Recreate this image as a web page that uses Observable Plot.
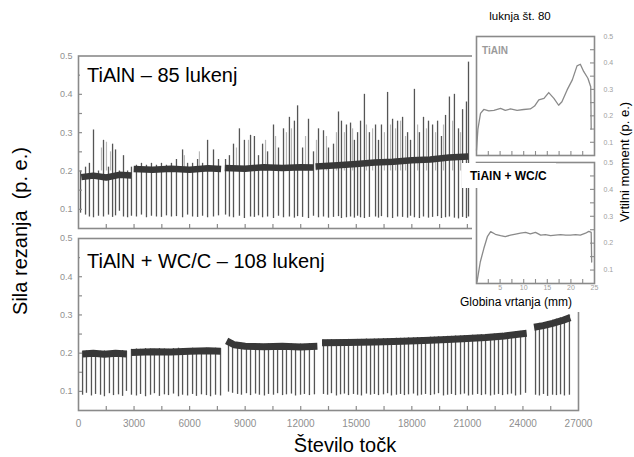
<!DOCTYPE html>
<html><head><meta charset="utf-8">
<script src="https://cdn.jsdelivr.net/npm/d3@7"></script>
<script src="https://cdn.jsdelivr.net/npm/@observablehq/plot@0.6"></script>
<style>
body{margin:0;background:#fff;}
#wrap{position:relative;width:634px;height:457px;overflow:hidden;background:#fff;font-family:"Liberation Sans",Arial,sans-serif;color:#000;}
#wrap svg{position:absolute;}
.lbl{position:absolute;white-space:pre;line-height:1;}
.box{position:absolute;background:#fff;}
</style></head><body><div id="wrap"></div>
<script>
// ---------- Main top panel: TiAlN (85 holes) ----------
const tiHoleX = [110, 380, 590, 810, 1080, 1350, 1620, 1840, 2000, 2210, 2430, 2650, 2860,
  3130, 3400, 3670, 3940, 4210, 4480, 4750, 5020, 5290, 5620, 5890, 6160, 6430, 6700, 6970, 7290, 7560,
  7940, 8150, 8370, 8690, 8960, 9290, 9500, 9720, 9940, 10210,
  10530, 10800, 11070, 11390, 11660, 11830, 12100, 12420, 12690, 12960,
  13230, 13500, 13770, 14040, 14200, 14470, 14690, 14900, 15070, 15230,
  15440, 15710, 16040, 16200, 16360, 16690, 16960, 17230, 17500, 17770,
  17930, 18140, 18410, 18630, 18900, 19120, 19390, 19600, 19820, 20030,
  20300, 20520, 20740, 20950, 21060];
const tiHoleLow = [0.09, 0.085, 0.08, 0.078, 0.082, 0.08, 0.085, 0.079, 0.083, 0.095,
  0.08, 0.078, 0.082, 0.08, 0.085, 0.078, 0.082, 0.08, 0.079, 0.083,
  0.08, 0.081, 0.078, 0.085, 0.08, 0.079, 0.082, 0.078, 0.08, 0.083,
  0.085, 0.08, 0.078, 0.082, 0.076, 0.08, 0.079, 0.083, 0.078, 0.08,
  0.076, 0.082, 0.078, 0.08, 0.077, 0.081, 0.079, 0.076, 0.082, 0.078,
  0.08, 0.077, 0.079, 0.081, 0.076, 0.078, 0.08, 0.077, 0.082, 0.078,
  0.076, 0.079, 0.08, 0.077, 0.081, 0.078, 0.076, 0.08, 0.079, 0.077,
  0.082, 0.078, 0.076, 0.08, 0.077, 0.079, 0.081, 0.076, 0.078, 0.08,
  0.077, 0.075, 0.079, 0.076, 0.08];
const tiHoleHigh = [0.2, 0.21, 0.22, 0.307, 0.2, 0.28, 0.21, 0.27, 0.255, 0.2,
  0.24, 0.2, 0.21, 0.215, 0.22, 0.215, 0.22, 0.215, 0.22, 0.215,
  0.22, 0.23, 0.255, 0.22, 0.22, 0.23, 0.22, 0.28, 0.255, 0.23,
  0.23, 0.24, 0.27, 0.31, 0.28, 0.293, 0.29, 0.24, 0.27, 0.25,
  0.32, 0.26, 0.31, 0.34, 0.33, 0.37, 0.26, 0.335, 0.25, 0.31,
  0.305, 0.26, 0.27, 0.354, 0.33, 0.32, 0.325, 0.28, 0.30, 0.33,
  0.40, 0.30, 0.32, 0.28, 0.32, 0.405, 0.335, 0.33, 0.34, 0.30,
  0.28, 0.413, 0.30, 0.34, 0.33, 0.32, 0.33, 0.29, 0.345, 0.393,
  0.40, 0.31, 0.36, 0.38, 0.484];
// faint (light grey) spikes between the dark ones
const tiGhostX = [1240, 1510, 1730, 5720, 6530, 8530, 9180, 10100, 10640, 11230, 11500, 12260, 12850, 13390, 13930,
  14360, 14800, 15550, 15880, 16520, 16850, 17120, 17390, 17660, 18310, 18790, 19280, 19710, 20200, 20630];
const tiGhostPeak = [0.26, 0.275, 0.25, 0.24, 0.25, 0.26, 0.28, 0.28, 0.29, 0.3, 0.31, 0.29, 0.28, 0.29, 0.3,
  0.3, 0.31, 0.32, 0.31, 0.3, 0.32, 0.31, 0.33, 0.29, 0.32, 0.31, 0.3, 0.32, 0.33, 0.3];
// plateau (cutting force level) of each drilling block
const tiLevelX = [150, 800, 1500, 2200, 2850,
  2980, 4000, 5000, 6000, 7000, 7700,
  7900, 9000, 10000, 11000, 12000, 12700,
  12800, 14000, 15000, 16000, 17000, 18000, 19000, 20000, 21050];
const tiLevelY = [0.184, 0.188, 0.183, 0.19, 0.188,
  0.205, 0.203, 0.206, 0.203, 0.207, 0.205,
  0.208, 0.206, 0.21, 0.208, 0.21, 0.209,
  0.212, 0.215, 0.218, 0.222, 0.224, 0.228, 0.23, 0.235, 0.238];
const tiLevelSeg = [1, 1, 1, 1, 1, 2, 2, 2, 2, 2, 2, 3, 3, 3, 3, 3, 3, 4, 4, 4, 4, 4, 4, 4, 4, 4];

// ---------- Main bottom panel: TiAlN + WC/C (108 holes) ----------
const wcHoleX = [220, 430, 700, 920, 1190, 1400, 1670, 1890, 2160, 2380, 2590,
  2860, 3130, 3350, 3620, 3890, 4100, 4370, 4640, 4860, 5130, 5400, 5620, 5890, 6160, 6370, 6640, 6910, 7130, 7400, 7670,
  8100, 8320, 8590, 8800, 9070, 9290, 9560, 9770, 10040, 10260, 10530, 10750, 11020, 11230, 11500, 11720, 11990, 12200, 12470, 12740,
  13230, 13450, 13660, 13930, 14150, 14360, 14580, 14850, 15070, 15280,
  15550, 15770, 15980, 16200, 16470, 16690, 16900, 17170, 17390, 17600,
  17820, 18090, 18310, 18520, 18740, 19010, 19220, 19440, 19710, 19930,
  20140, 20360, 20630, 20840, 21060, 21280, 21550, 21760, 21980, 22250,
  22460, 22680, 22900, 23170, 23380, 23600, 23870, 24140,
  24680, 24890, 25110, 25330, 25600, 25810, 26030, 26240, 26510];
const wcHoleLow = [0.09, 0.095, 0.088, 0.092, 0.09, 0.086, 0.094, 0.089, 0.091, 0.087, 0.1,
  0.09, 0.088, 0.092, 0.086, 0.09, 0.094, 0.087, 0.091, 0.089, 0.093, 0.086, 0.09, 0.088, 0.092, 0.087, 0.091, 0.089, 0.086, 0.09, 0.088,
  0.098, 0.095, 0.092, 0.09, 0.094, 0.089, 0.093, 0.09, 0.088, 0.092, 0.09, 0.094, 0.089, 0.091, 0.093, 0.088, 0.09, 0.092, 0.089, 0.091,
  0.092, 0.09, 0.094, 0.088, 0.091, 0.093, 0.089, 0.092, 0.09, 0.088,
  0.093, 0.09, 0.092, 0.089, 0.091, 0.094, 0.088, 0.09, 0.092, 0.089,
  0.091, 0.093, 0.088, 0.09, 0.092, 0.089, 0.091, 0.094, 0.088, 0.09,
  0.092, 0.089, 0.091, 0.093, 0.088, 0.09, 0.092, 0.089, 0.091, 0.088,
  0.09, 0.092, 0.089, 0.091, 0.093, 0.088, 0.09, 0.095,
  0.09, 0.088, 0.092, 0.087, 0.09, 0.089, 0.091, 0.088, 0.09];
const wcHoleHigh = [0.205, 0.206, 0.204, 0.207, 0.205, 0.206, 0.204, 0.206, 0.205, 0.207, 0.205,
  0.21, 0.211, 0.21, 0.212, 0.211, 0.21, 0.212, 0.211, 0.21, 0.212, 0.213, 0.211, 0.212, 0.213, 0.211, 0.212, 0.213, 0.212, 0.213, 0.212,
  0.235, 0.232, 0.228, 0.226, 0.225, 0.224, 0.225, 0.224, 0.223, 0.224, 0.225, 0.224, 0.223, 0.225, 0.224, 0.223, 0.224, 0.223, 0.225, 0.224,
  0.234, 0.234, 0.235, 0.234, 0.235, 0.235, 0.236, 0.235, 0.236, 0.236,
  0.237, 0.236, 0.237, 0.237, 0.238, 0.238, 0.238, 0.239, 0.239, 0.239,
  0.24, 0.24, 0.241, 0.241, 0.241, 0.242, 0.242, 0.243, 0.243, 0.244,
  0.244, 0.245, 0.245, 0.246, 0.246, 0.247, 0.247, 0.248, 0.249, 0.249,
  0.25, 0.251, 0.252, 0.253, 0.254, 0.256, 0.257, 0.259,
  0.275, 0.278, 0.28, 0.283, 0.286, 0.289, 0.292, 0.295, 0.3];
const wcLevelX = [230, 800, 1400, 2000, 2600,
  2850, 4000, 5000, 6000, 7000, 7680,
  8000, 8400, 9000, 10000, 11000, 12000, 12900,
  13150, 14500, 16000, 17500, 19000, 20500, 22000, 23000, 24200,
  24600, 25100, 25600, 26100, 26550];
const wcLevelY = [0.198, 0.2, 0.197, 0.2, 0.198,
  0.202, 0.204, 0.203, 0.205, 0.206, 0.205,
  0.232, 0.222, 0.218, 0.217, 0.218, 0.216, 0.218,
  0.227, 0.228, 0.229, 0.231, 0.234, 0.237, 0.241, 0.245, 0.252,
  0.268, 0.272, 0.278, 0.285, 0.293];
const wcLevelSeg = [1, 1, 1, 1, 1, 2, 2, 2, 2, 2, 2, 3, 3, 3, 3, 3, 3, 3, 4, 4, 4, 4, 4, 4, 4, 4, 4, 5, 5, 5, 5, 5];

// ---------- Insets: torque vs drilling depth, hole no. 80 ----------
const insetTiDepth = [0, 0.3, 0.85, 1.55, 2.6, 3.7, 5.1, 6.1, 7.2, 8.6, 10.0, 11.4, 12.3, 13.2, 14.3, 15.3, 16.4, 17.4, 18.1, 19.2, 20.3, 21.3, 22.0, 22.7, 23.6, 24.2, 24.3];
const insetTiTorque = [0.07, 0.15, 0.209, 0.224, 0.219, 0.221, 0.228, 0.221, 0.226, 0.221, 0.224, 0.226, 0.237, 0.26, 0.266, 0.288, 0.266, 0.24, 0.253, 0.298, 0.336, 0.389, 0.395, 0.368, 0.342, 0.31, 0.15];
const insetWcDepth = [0.1, 0.8, 1.55, 2.3, 3.0, 4.0, 5.1, 6.1, 7.2, 8.3, 9.3, 10.4, 11.4, 12.5, 13.6, 14.6, 15.7, 16.7, 17.8, 18.9, 19.9, 21.0, 22.0, 23.1, 23.8, 24.3, 24.4];
const insetWcTorque = [0.055, 0.13, 0.18, 0.224, 0.243, 0.233, 0.228, 0.224, 0.23, 0.234, 0.237, 0.24, 0.235, 0.24, 0.23, 0.232, 0.228, 0.23, 0.232, 0.23, 0.23, 0.232, 0.23, 0.237, 0.244, 0.24, 0.13];

// ---------- Ticks ----------
const forceTicks = [0.1, 0.2, 0.3, 0.4, 0.5];
const forceMinor = [0.1, 0.15, 0.2, 0.25, 0.3, 0.35, 0.4, 0.45];
const pointTicks = [0, 3000, 6000, 9000, 12000, 15000, 18000, 21000, 24000, 27000];
const pointMinor = [1500, 3000, 4500, 6000, 7500, 9000, 10500, 12000, 13500, 15000, 16500, 18000, 19500, 21000, 22500, 24000, 25500];
const depthTicks = [5, 10, 15, 20, 25];
const depthMinor = [2.5, 5, 7.5, 10, 12.5, 15, 17.5, 20, 22.5];

const wrap = document.getElementById("wrap");
const FRAME = "#8a8a8a", TICK = "#8c8c8c", TXT = "#8f8f8f";
const font = '"Liberation Sans", Arial, sans-serif';

function place(el, left, top) { el.style.left = left + "px"; el.style.top = top + "px"; wrap.appendChild(el); }

// top panel
{
  const W = 480, H = 190, mL = 78, mR = 4, mT = 15.5, mB = 2;
  const fw = W - mL - mR, fh = H - mT - mB;
  const p = Plot.plot({
    width: W, height: H, marginLeft: mL, marginRight: mR, marginTop: mT, marginBottom: mB,
    x: {domain: [0, 21492], axis: null},
    y: {domain: [0.05, 0.5], axis: null},
    style: {background: "transparent", fontFamily: font, overflow: "visible"},
    marks: [
      Plot.ruleX(tiGhostX, {x: tiGhostX, y1: 0.2, y2: tiGhostPeak, stroke: "#b8b8b8", strokeWidth: 1.2}),
      Plot.ruleX(tiHoleX, {x: tiHoleX, y1: tiHoleLow, y2: tiHoleHigh, stroke: "#555", strokeWidth: 1.3}),
      Plot.line(tiLevelX, {x: tiLevelX, y: tiLevelY, z: tiLevelSeg, stroke: "#383838", strokeWidth: 6.5, strokeLinecap: "butt"}),
      Plot.tickY(forceMinor, {y: d => d, insetRight: fw - 4, stroke: TICK, strokeWidth: 1.2}),
      Plot.tickX(pointMinor.filter(d => d < 21400), {x: d => d, insetTop: fh - 4, stroke: TICK, strokeWidth: 1.2}),
      Plot.axisY({ticks: forceTicks, tickSize: 0, tickPadding: 6, tickFormat: d3.format(".1f"), fontSize: 9, color: TXT}),
      Plot.frame({stroke: FRAME, strokeWidth: 1.6})
    ]
  });
  place(p, 0, 40);
}

// bottom panel
{
  const W = 600, H = 210, mL = 78, mR = 22, mT = 10, mB = 28;
  const fw = W - mL - mR, fh = H - mT - mB;
  const p = Plot.plot({
    width: W, height: H, marginLeft: mL, marginRight: mR, marginTop: mT, marginBottom: mB,
    x: {domain: [0, 27000], axis: null},
    y: {domain: [0.05, 0.5], axis: null},
    style: {background: "transparent", fontFamily: font, overflow: "visible"},
    marks: [
      Plot.ruleX(wcHoleX, {x: wcHoleX, y1: wcHoleLow, y2: wcHoleHigh, stroke: "#555", strokeWidth: 1.3}),
      Plot.line(wcLevelX, {x: wcLevelX, y: wcLevelY, z: wcLevelSeg, stroke: "#383838", strokeWidth: 7, strokeLinecap: "butt"}),
      Plot.tickY(forceMinor, {y: d => d, insetRight: fw - 4, stroke: TICK, strokeWidth: 1.2}),
      Plot.tickX(pointMinor, {x: d => d, insetTop: fh - 4, stroke: TICK, strokeWidth: 1.2}),
      Plot.axisY({ticks: forceTicks, tickSize: 0, tickPadding: 6, tickFormat: d3.format(".1f"), fontSize: 9, color: TXT}),
      Plot.axisX({ticks: pointTicks, tickSize: 0, tickPadding: 9, tickFormat: d3.format("d"), fontSize: 10, color: TXT}),
      Plot.frame({stroke: FRAME, strokeWidth: 1.6})
    ]
  });
  place(p, 0, 228);
}

// inset factory
function inset(depth, torque, top, H, mT, mB, showX) {
  const W = 162, mL = 4, mR = 40;
  const fw = W - mL - mR, fh = H - mT - mB;
  const marks = [
    Plot.line(depth, {x: depth, y: torque, stroke: "#8a8a8a", strokeWidth: 1.3}),
    Plot.tickY(forceMinor, {y: d => d, insetLeft: fw - 4, stroke: TICK, strokeWidth: 1.1}),
    Plot.tickX(depthMinor, {x: d => d, insetTop: fh - 4, stroke: TICK, strokeWidth: 1.1}),
    Plot.axisY({anchor: "right", ticks: forceTicks, tickSize: 0, tickPadding: 9, tickFormat: d3.format(".1f"), fontSize: 7, color: "#a0a0a0"}),
    Plot.frame({stroke: FRAME, strokeWidth: 1.6})
  ];
  if (showX) marks.push(Plot.axisX({ticks: depthTicks, tickSize: 0, tickPadding: 2, fontSize: 7, color: "#a0a0a0"}));
  const p = Plot.plot({
    width: W, height: H, marginLeft: mL, marginRight: mR, marginTop: mT, marginBottom: mB,
    x: {domain: [0, 25], axis: null},
    y: {domain: [0.05, 0.5], axis: null},
    style: {background: "white", fontFamily: font, overflow: "visible"},
    marks
  });
  place(p, 472, top);
}
inset(insetTiDepth, insetTiTorque, 28, 130, 8, 3, false);
inset(insetWcDepth, insetWcTorque, 157, 143, 5, 17, true);

// ---------- Text ----------
function label(text, css) {
  const d = document.createElement("div");
  d.className = "lbl";
  d.textContent = text;
  Object.assign(d.style, css);
  wrap.appendChild(d);
  return d;
}
function box(l, t, w, h) {
  const d = document.createElement("div");
  d.className = "box";
  Object.assign(d.style, {left: l + "px", top: t + "px", width: w + "px", height: h + "px"});
  wrap.appendChild(d);
}
box(80, 58, 176, 34);
label("TiAlN – 85 lukenj", {left: "87px", top: "65px", fontSize: "20px"});
box(80, 243, 292, 33);
label("TiAlN + WC/C – 108 lukenj", {left: "87px", top: "251px", fontSize: "20px"});
label("Sila rezanja  (p. e.)", {left: "20px", top: "231px", fontSize: "20px", transform: "translate(-50%,-50%) rotate(-90deg)"});
label("Število točk", {left: "345px", top: "435px", fontSize: "20px", transform: "translateX(-50%)"});
label("luknja št. 80", {left: "520px", top: "11px", fontSize: "11.5px", transform: "translateX(-50%)"});
label("TiAlN", {left: "482px", top: "46px", fontSize: "10px", fontWeight: "bold", color: "#9a9a9a"});
box(462, 163, 94, 25);
label("TiAlN + WC/C", {left: "470px", top: "170px", fontSize: "12px", fontWeight: "bold"});
label("Vrtilni moment (p. e.)", {left: "624px", top: "162px", fontSize: "13px", transform: "translate(-50%,-50%) rotate(-90deg)"});
box(453, 292, 128, 20);
label("Globina vrtanja (mm)", {left: "460px", top: "296px", fontSize: "12px"});
</script></body></html>
